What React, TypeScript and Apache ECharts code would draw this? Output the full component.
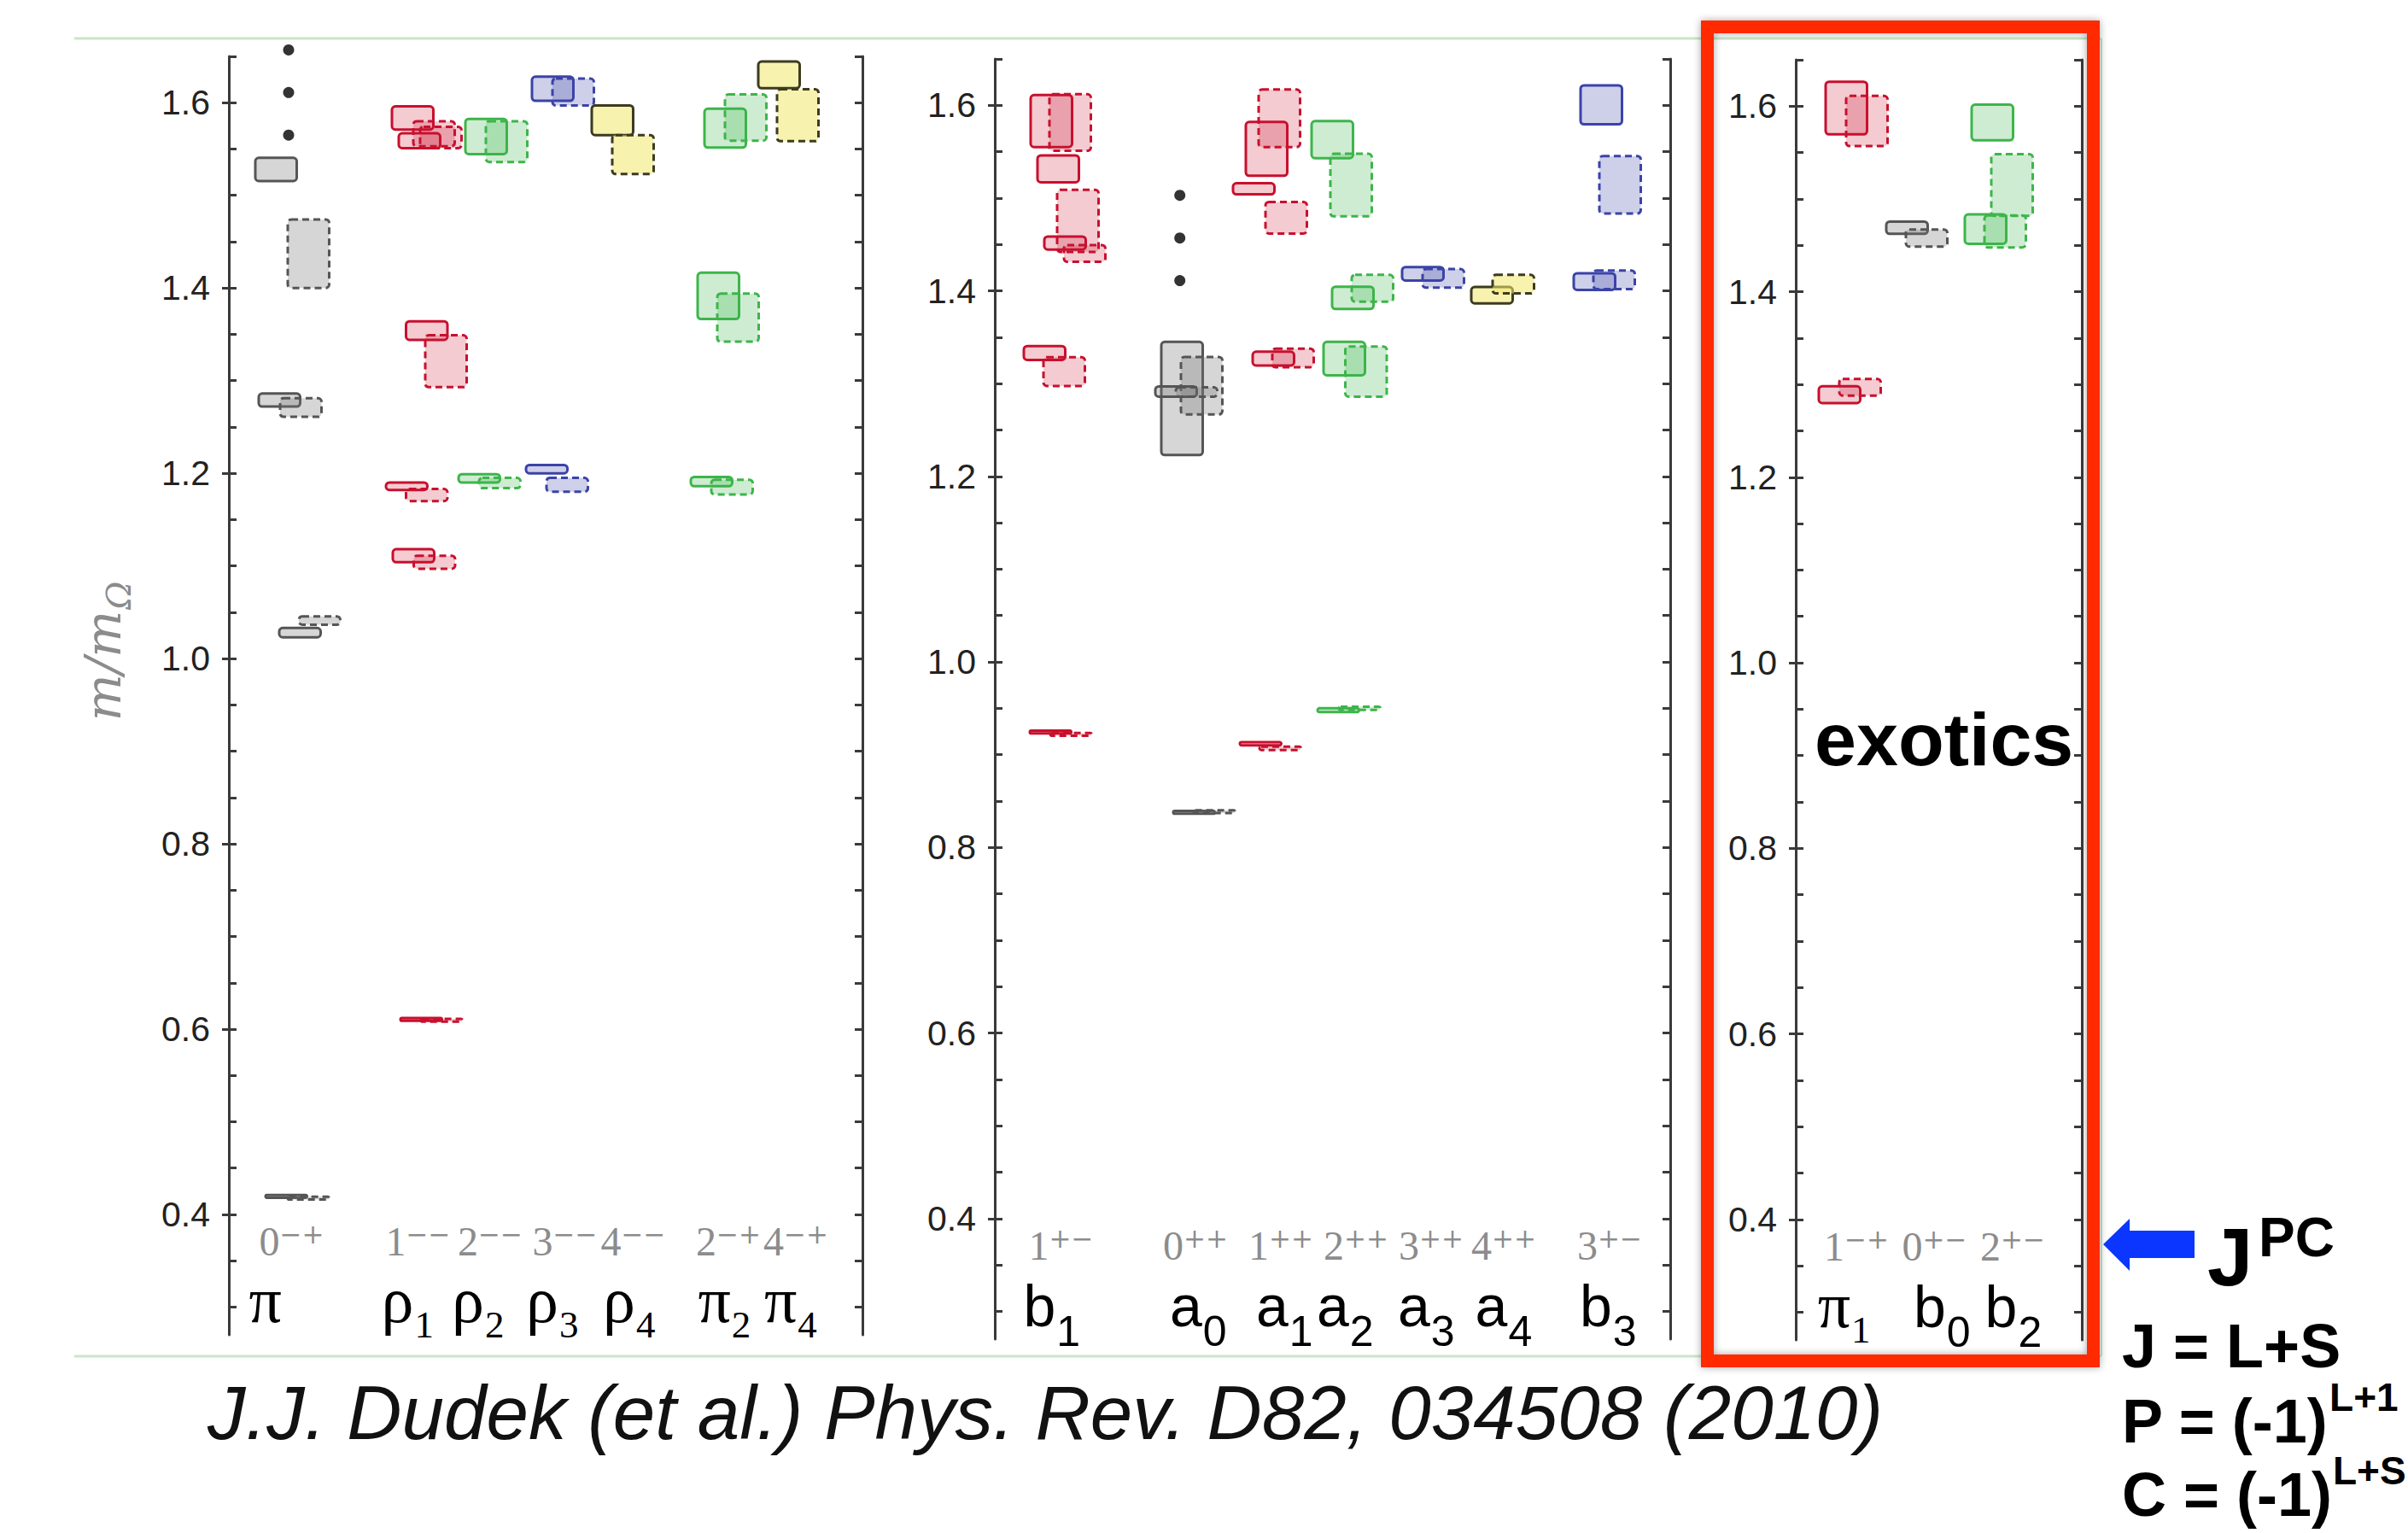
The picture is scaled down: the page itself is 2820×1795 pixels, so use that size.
import React, { useEffect, useRef } from 'react';
import * as echarts from 'echarts';

// Box = [x left edge (slot units on the hidden x axis), m/mΩ centre, half-height (±error), dashed (0 solid, 1 dashed)]
type Box = [number, number, number, number];

// ---------- panel 1 ----------
const pi: Box[] = [
  [3.1, 1.528, 0.0125, 0], [6.9, 1.437, 0.037, 1],
  [3.5, 1.279, 0.007, 0], [6.0, 1.271, 0.010, 1],
  [5.9, 1.028, 0.005, 0], [8.2, 1.041, 0.0045, 1],
  [4.3, 0.4195, 0.0015, 0], [6.9, 0.4175, 0.0015, 1],
];
const rho1: Box[] = [
  [19.1, 1.5835, 0.0125, 0], [19.9, 1.559, 0.008, 0],
  [21.6, 1.5665, 0.0135, 1], [22.4, 1.5625, 0.0115, 1],
  [20.75, 1.354, 0.010, 0], [23.0, 1.321, 0.028, 1],
  [18.4, 1.186, 0.004, 0], [20.75, 1.1765, 0.0065, 1],
  [19.2, 1.111, 0.007, 0], [21.65, 1.104, 0.007, 1],
  [20.1, 0.6105, 0.0015, 0], [22.5, 0.6095, 0.0015, 1],
];
const rho2: Box[] = [
  [27.7, 1.5635, 0.019, 0], [30.1, 1.558, 0.022, 1],
  [26.9, 1.1945, 0.0045, 0], [29.3, 1.1895, 0.0055, 1],
];
const rho3: Box[] = [
  [35.5, 1.615, 0.013, 0], [37.9, 1.6115, 0.0145, 1],
  [34.8, 1.2045, 0.0045, 0], [37.2, 1.1875, 0.0075, 1],
];
const rho4: Box[] = [
  [42.5, 1.581, 0.016, 0], [44.9, 1.544, 0.021, 1],
];
const pi2: Box[] = [
  [55.7, 1.5725, 0.021, 0], [58.1, 1.584, 0.025, 1],
  [54.9, 1.3915, 0.025, 0], [57.2, 1.368, 0.026, 1],
  [54.1, 1.191, 0.005, 0], [56.5, 1.185, 0.008, 1],
];
const pi4: Box[] = [
  [62.0, 1.630, 0.0144, 0], [64.2, 1.5865, 0.028, 1],
];
const piDots = [[7.0, 1.565], [7.0, 1.611], [7.0, 1.657]];

// ---------- panel 2 ----------
const b1: Box[] = [
  [4.2, 1.583, 0.028, 0], [6.4, 1.5815, 0.0305, 1],
  [5.0, 1.5315, 0.0145, 0], [7.3, 1.4755, 0.0335, 1],
  [5.8, 1.4515, 0.007, 0], [8.1, 1.4403, 0.009, 1],
  [3.4, 1.333, 0.0075, 0], [5.7, 1.313, 0.0155, 1],
  [4.1, 0.9244, 0.0015, 0], [6.5, 0.922, 0.0015, 1],
];
const a0: Box[] = [
  [19.5, 1.284, 0.061, 0], [21.8, 1.2977, 0.031, 1],
  [18.8, 1.2915, 0.0055, 0], [21.2, 1.291, 0.005, 1],
  [20.9, 0.8378, 0.0015, 0], [23.3, 0.8385, 0.0015, 1],
];
const a1: Box[] = [
  [30.9, 1.586, 0.031, 1], [29.4, 1.553, 0.029, 0],
  [27.9, 1.510, 0.006, 0], [31.7, 1.4788, 0.017, 1],
  [30.2, 1.327, 0.0074, 0], [32.5, 1.3277, 0.010, 1],
  [28.7, 0.9118, 0.0018, 0], [31.0, 0.9069, 0.0018, 1],
];
const a2: Box[] = [
  [37.1, 1.563, 0.020, 0], [39.3, 1.514, 0.0337, 1],
  [39.5, 1.3925, 0.012, 0], [41.8, 1.4028, 0.0145, 1],
  [38.5, 1.327, 0.018, 0], [41.05, 1.313, 0.027, 1],
  [37.8, 0.948, 0.002, 0], [40.3, 0.950, 0.0018, 1],
];
const a3: Box[] = [
  [47.7, 1.4184, 0.0072, 0], [50.1, 1.4135, 0.010, 1],
];
const a4: Box[] = [
  [55.8, 1.3953, 0.0088, 0], [58.3, 1.4073, 0.010, 1],
];
const b3: Box[] = [
  [68.6, 1.6005, 0.021, 0], [70.8, 1.5143, 0.031, 1],
  [67.8, 1.41, 0.009, 0], [70.1, 1.412, 0.010, 1],
];
const a0Dots = [[21.67, 1.503], [21.67, 1.457], [21.67, 1.411]];

// ---------- panel 3 (exotics) ----------
const pi1: Box[] = [
  [3.5, 1.598, 0.0284, 0], [5.9, 1.584, 0.027, 1],
  [2.7, 1.289, 0.009, 0], [5.1, 1.297, 0.009, 1],
];
const b0: Box[] = [
  [10.6, 1.469, 0.0066, 0], [12.9, 1.4579, 0.0092, 1],
];
const b2: Box[] = [
  [20.6, 1.5824, 0.0192, 0], [22.9, 1.515, 0.0333, 1],
  [19.8, 1.4675, 0.0158, 0], [22.1, 1.465, 0.0172, 1],
];

// ---------- axis ticks ----------
const yMajorTicks = [0.4, 0.6, 0.8, 1.0, 1.2, 1.4, 1.6];
const yMinorTicks = [0.3, 0.35, 0.4, 0.45, 0.5, 0.55, 0.6, 0.65, 0.7, 0.75, 0.8, 0.85, 0.9, 0.95,
  1.0, 1.05, 1.1, 1.15, 1.2, 1.25, 1.3, 1.35, 1.4, 1.45, 1.5, 1.55, 1.6, 1.65];
const Y_MIN = 0.27;
const Y_MAX = 1.65;

// ---------- column labels ----------
const panel1JpcDigits = ['0', '1', '2', '3', '4', '2', '4'];
const panel1JpcSigns = ['−+', '−−', '−−', '−−', '−−', '−+', '−+'];
const panel1JpcX = [3.56, 18.35, 26.8, 35.55, 43.55, 54.7, 62.6];
const panel1Names = ['π', 'ρ', 'ρ', 'ρ', 'ρ', 'π', 'π'];
const panel1NameSubs = ['', '1', '2', '3', '4', '2', '4'];
const panel1NameX = [2.35, 17.86, 26.1, 34.8, 43.8, 54.94, 62.7];

const panel2JpcDigits = ['1', '0', '1', '2', '3', '4', '3'];
const panel2JpcSigns = ['+−', '++', '++', '++', '++', '++', '+−'];
const panel2JpcX = [3.95, 19.7, 29.7, 38.5, 47.3, 55.8, 68.2];
const panel2Names = ['b', 'a', 'a', 'a', 'a', 'a', 'b'];
const panel2NameSubs = ['1', '0', '1', '2', '3', '4', '3'];
const panel2NameX = [3.35, 20.5, 30.6, 37.7, 47.2, 56.26, 68.5];

const panel3JpcDigits = ['1', '0', '2'];
const panel3JpcSigns = ['−+', '+−', '+−'];
const panel3JpcX = [3.3, 12.45, 21.6];
const panel3Names = ['π', 'b', 'b'];
const panel3NameSubs = ['1', '0', '2'];
const panel3NameX = [2.57, 13.8, 22.16];

const JPC_ROW = 0.367;
const NAME_ROW = 0.284;

// ---------- styles ----------
const BOX_W = 4.85;
const PALETTE: Record<string, { stroke: string; fill: string }> = {
  gray: { stroke: '#555555', fill: 'rgba(120,120,120,0.30)' },
  red: { stroke: '#c8102e', fill: 'rgba(200,16,46,0.22)' },
  green: { stroke: '#3db54a', fill: 'rgba(61,181,74,0.25)' },
  blue: { stroke: '#3b43a8', fill: 'rgba(59,67,168,0.25)' },
  yellow: { stroke: '#3d3b20', fill: 'rgba(243,232,110,0.55)' },
};
const AXIS_COLOR = '#3a3a3a';
const SERIF = '"Liberation Serif", serif';
const SANS = '"Liberation Sans", Arial, sans-serif';
const DSERIF = '"DejaVu Serif", serif';
const LABEL_GRAY = '#8c8c8c';

const RICH_JPC: any = {
  d: { fontFamily: SERIF, fontSize: 48, lineHeight: 56, verticalAlign: 'top', fill: LABEL_GRAY, color: LABEL_GRAY },
  s: { fontFamily: DSERIF, fontSize: 31, lineHeight: 32, verticalAlign: 'top', fill: LABEL_GRAY, color: LABEL_GRAY },
};

let measureCtx: CanvasRenderingContext2D | null = null;
function textWidth(text: string, font: string) {
  if (!measureCtx) measureCtx = document.createElement('canvas').getContext('2d');
  if (!measureCtx) return text.length * 30;
  measureCtx.font = font;
  return measureCtx.measureText(text).width;
}

const PANELS = [
  {
    grid: { left: 268, top: 66, width: 742, height: 1497 }, xMax: 74.2,
    states: [['gray', pi], ['red', rho1], ['green', rho2], ['blue', rho3], ['yellow', rho4], ['green', pi2], ['yellow', pi4]] as [string, Box[]][],
    dots: piDots as number[][] | null,
    jpcDigits: panel1JpcDigits, jpcSigns: panel1JpcSigns, jpcX: panel1JpcX,
    names: panel1Names, nameSubs: panel1NameSubs, nameX: panel1NameX,
  },
  {
    grid: { left: 1165, top: 69, width: 791, height: 1499 }, xMax: 79.1,
    states: [['red', b1], ['gray', a0], ['red', a1], ['green', a2], ['blue', a3], ['yellow', a4], ['blue', b3]] as [string, Box[]][],
    dots: a0Dots as number[][] | null,
    jpcDigits: panel2JpcDigits, jpcSigns: panel2JpcSigns, jpcX: panel2JpcX,
    names: panel2Names, nameSubs: panel2NameSubs, nameX: panel2NameX,
  },
  {
    grid: { left: 2103, top: 70, width: 335, height: 1499 }, xMax: 33.5,
    states: [['red', pi1], ['gray', b0], ['green', b2]] as [string, Box[]][],
    dots: null as number[][] | null,
    jpcDigits: panel3JpcDigits, jpcSigns: panel3JpcSigns, jpcX: panel3JpcX,
    names: panel3Names, nameSubs: panel3NameSubs, nameX: panel3NameX,
  },
];

function yAxesFor(i: number) {
  const base = { type: 'value', gridIndex: i, min: Y_MIN, max: Y_MAX, splitLine: { show: false }, minorTick: { show: false } };
  return [
    {
      ...base, position: 'left',
      axisLine: { show: true, lineStyle: { color: AXIS_COLOR, width: 3 } },
      axisTick: { show: true, inside: false, length: 8, customValues: yMajorTicks, lineStyle: { color: AXIS_COLOR, width: 3 } },
      axisLabel: {
        show: true, customValues: yMajorTicks, margin: 22, fontFamily: SANS, fontSize: 41, color: '#222',
        formatter: (v: number) => v.toFixed(1),
      },
    },
    {
      ...base, position: 'left',
      axisLine: { show: false },
      axisTick: { show: true, inside: true, length: 9, customValues: yMinorTicks, lineStyle: { color: AXIS_COLOR, width: 3 } },
      axisLabel: { show: false },
    },
    {
      ...base, position: 'right',
      axisLine: { show: true, lineStyle: { color: AXIS_COLOR, width: 3 } },
      axisTick: { show: true, inside: true, length: 9, customValues: yMinorTicks, lineStyle: { color: AXIS_COLOR, width: 3 } },
      axisLabel: { show: false },
    },
  ];
}

function boxSeries(i: number, states: [string, Box[]][]) {
  const items: { value: Box; color: string }[] = [];
  states.forEach(([color, boxes]) => boxes.forEach((b) => items.push({ value: b, color })));
  return {
    type: 'custom', xAxisIndex: i, yAxisIndex: i * 3, clip: false, silent: true,
    encode: { x: 0, y: 1 },
    data: items.map((it) => it.value),
    renderItem: (params: any, api: any) => {
      const it = items[params.dataIndex];
      const [x0, m, e, dashed] = it.value;
      const tl = api.coord([x0, m + e]);
      const br = api.coord([x0 + BOX_W, m - e]);
      const c = PALETTE[it.color];
      return {
        type: 'rect',
        shape: { x: tl[0], y: tl[1], width: br[0] - tl[0], height: br[1] - tl[1], r: 4 },
        style: { fill: c.fill, stroke: c.stroke, lineWidth: 3, lineDash: dashed ? [8, 5] : null },
      };
    },
  };
}

// text with a lowered subscript, drawn as two texts (main baseline at baseY)
function subscripted(x: number, baseY: number, main: string, sub: string, greek: boolean) {
  const fam = greek ? SERIF : SANS;
  const central = greek ? 0.3375 : 0.3465;
  const mainSize = greek ? 76 : 68;
  const subSize = greek ? 45 : 50;
  const drop = greek ? 18 : 24;
  const mainFont = `${mainSize}px ${fam}`;
  const subFont = `${subSize}px ${fam}`;
  const children: any[] = [{
    type: 'text', x, y: baseY - central * mainSize,
    style: { text: main, font: mainFont, fill: '#000', align: 'left', verticalAlign: 'middle' },
  }];
  if (sub) {
    const w = textWidth(main, mainFont);
    children.push({
      type: 'text', x: x + w + 1, y: baseY + drop - central * subSize,
      style: { text: sub, font: subFont, fill: '#000', align: 'left', verticalAlign: 'middle' },
    });
  }
  return children;
}

function labelSeries(i: number, p: any) {
  const items: { kind: string; x: number; v: number; main: string; sub: string }[] = [];
  p.jpcDigits.forEach((d: string, k: number) =>
    items.push({ kind: 'jpc', x: p.jpcX[k], v: JPC_ROW, main: d, sub: p.jpcSigns[k] }));
  p.names.forEach((n: string, k: number) => {
    const greek = /[α-ω]/.test(n);
    items.push({ kind: greek ? 'greek' : 'latin', x: p.nameX[k], v: NAME_ROW, main: n, sub: p.nameSubs[k] });
  });
  return {
    type: 'custom', xAxisIndex: i, yAxisIndex: i * 3, clip: false, silent: true,
    encode: { x: 0, y: 1 },
    data: items.map((it) => [it.x, it.v]),
    renderItem: (params: any, api: any) => {
      const it = items[params.dataIndex];
      const pt = api.coord([it.x, it.v]);
      if (it.kind === 'jpc') {
        return {
          type: 'text', x: pt[0], y: pt[1],
          style: { text: `{d|${it.main}}{s|${it.sub}}`, rich: RICH_JPC, align: 'left', verticalAlign: 'middle' },
        };
      }
      return { type: 'group', children: subscripted(pt[0], pt[1], it.main, it.sub, it.kind === 'greek') };
    },
  };
}

function buildOption() {
  const grid = PANELS.map((p) => ({ ...p.grid, containLabel: false, outerBoundsMode: 'none' }));
  const xAxis = PANELS.map((p, i) => ({ type: 'value', gridIndex: i, min: 0, max: p.xMax, show: false }));
  const yAxis: any[] = [];
  PANELS.forEach((_, i) => yAxis.push(...yAxesFor(i)));
  const series: any[] = [];
  PANELS.forEach((p, i) => {
    series.push(boxSeries(i, p.states));
    if (p.dots) {
      series.push({
        type: 'scatter', xAxisIndex: i, yAxisIndex: i * 3, data: p.dots, symbolSize: 13,
        itemStyle: { color: '#000' }, clip: false, silent: true,
      });
    }
    series.push(labelSeries(i, p));
  });

  // y-axis title m/mΩ, rotated, subscript Ω
  const yMainFont = `italic 58px ${DSERIF}`;
  const ySubFont = `italic 40px ${DSERIF}`;
  const yMainW = textWidth('m/m', yMainFont);
  const ySubW = textWidth('Ω', ySubFont);
  const yTotal = yMainW + ySubW;

  // quantum-number formulas with superscripts (separate texts)
  const fMain = `bold 72px ${SANS}`;
  const fSup = `bold 46px ${SANS}`;
  const pW = textWidth('P = (-1)', fMain);
  const cW = textWidth('C = (-1)', fMain);
  const txt = (x: number, y: number, text: string, font: string) => ({
    type: 'text', z: 20, x, y, style: { text, font, fill: '#000', align: 'left', verticalAlign: 'middle' },
  });

  const graphic: any[] = [
    { type: 'line', z: 1, shape: { x1: 87, y1: 45, x2: 2460, y2: 45 }, style: { stroke: '#c9e6c9', lineWidth: 3 } },
    { type: 'line', z: 1, shape: { x1: 87, y1: 1588, x2: 2460, y2: 1588 }, style: { stroke: '#c9e6c9', lineWidth: 3 } },
    { type: 'line', z: 1, shape: { x1: 2461, y1: 45, x2: 2461, y2: 1588 }, style: { stroke: '#c9e6c9', lineWidth: 2 } },
    {
      type: 'rect', z: 20, shape: { x: 1999.5, y: 31.5, width: 452, height: 1562 },
      style: { fill: 'rgba(0,0,0,0)', stroke: '#ff2a00', lineWidth: 15, shadowBlur: 10, shadowColor: 'rgba(0,0,0,0.35)' },
    },
    {
      type: 'polygon', z: 20,
      shape: { points: [[2463, 1457], [2494, 1427], [2494, 1441], [2570, 1441], [2570, 1473], [2494, 1473], [2494, 1488]] },
      style: { fill: '#0a36ff' },
    },
    txt(2125, 865, 'exotics', `bold 88px ${SANS}`),
    {
      type: 'group', z: 20, x: 121, y: 763, rotation: Math.PI / 2,
      children: [
        { type: 'text', x: -yTotal / 2, y: 0, style: { text: 'm/m', font: yMainFont, fill: LABEL_GRAY, align: 'left', verticalAlign: 'middle' } },
        { type: 'text', x: -yTotal / 2 + yMainW + 1, y: 18, style: { text: 'Ω', font: ySubFont, fill: LABEL_GRAY, align: 'left', verticalAlign: 'middle' } },
      ],
    },
    {
      type: 'text', z: 20, x: 243, y: 1654,
      style: { text: 'J.J. Dudek (et al.) Phys. Rev. D82, 034508 (2010)', font: `italic 89px ${SANS}`, fill: '#111', align: 'left', verticalAlign: 'middle' },
    },
    txt(2585, 1471, 'J', `bold 96px ${SANS}`),
    txt(2645, 1449, 'PC', `bold 64px ${SANS}`),
    txt(2485, 1576, 'J = L+S', fMain),
    txt(2485, 1664, 'P = (-1)', fMain),
    txt(2485 + pW + 1, 1636, 'L+1', fSup),
    txt(2485, 1750, 'C = (-1)', fMain),
    txt(2485 + cW + 1, 1722, 'L+S', fSup),
  ];

  return {
    animation: false,
    backgroundColor: '#ffffff',
    textStyle: { fontFamily: SANS },
    grid, xAxis, yAxis, series, graphic,
  };
}

export default function App() {
  const ref = useRef<HTMLDivElement>(null);
  useEffect(() => {
    if (!ref.current) return;
    const chart = echarts.init(ref.current, null, { renderer: 'svg', width: 2820, height: 1795 });
    chart.setOption(buildOption() as any);
    return () => chart.dispose();
  }, []);
  return (
    <div
      ref={ref}
      style={{ position: 'absolute', left: 0, top: 0, width: 2820, height: 1795, background: '#fff' }}
    />
  );
}
